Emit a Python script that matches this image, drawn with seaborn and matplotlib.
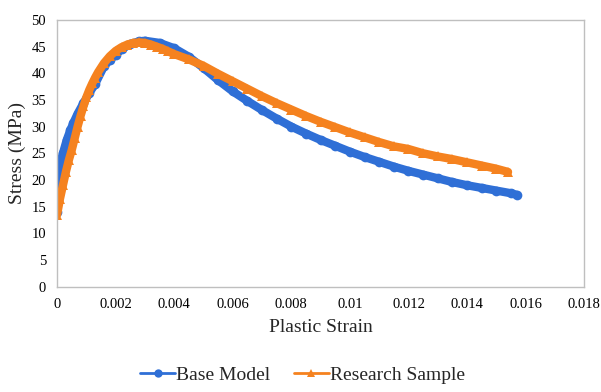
import numpy as np
import pandas as pd
import matplotlib
matplotlib.use('Agg')
import matplotlib.pyplot as plt
from matplotlib.lines import Line2D
import seaborn as sns

# values
base_strain = [0, 0.00005, 0.0001, 0.00015, 0.0002, 0.00033, 0.00045, 0.00055, 0.0007, 0.0009,
               0.0011, 0.0013, 0.0016, 0.0018, 0.002, 0.0022, 0.0025, 0.0028, 0.003,
               0.0035, 0.004, 0.0045, 0.005, 0.0055, 0.006, 0.0065, 0.007, 0.0075, 0.008,
               0.0085, 0.009, 0.0095, 0.01, 0.0105, 0.011, 0.0115, 0.012, 0.0125, 0.013,
               0.0135, 0.014, 0.0145, 0.015, 0.0155, 0.0157]
base_stress = [14.0, 18.0, 22.5, 24.0, 25.0, 27.5, 29.3, 30.6, 32.4, 34.4,
               36.3, 38.0, 41.3, 42.5, 43.5, 44.5, 45.5, 46.0, 46.1,
               45.7, 44.7, 43.1, 41.0, 38.7, 36.6, 34.8, 33.1, 31.5, 30.0,
               28.7, 27.5, 26.4, 25.3, 24.3, 23.4, 22.5, 21.7, 21.0, 20.3,
               19.6, 19.0, 18.5, 18.0, 17.5, 17.2]

sample_strain = [0, 0.0001, 0.0002, 0.0003, 0.0004, 0.0005, 0.0006, 0.0007, 0.0008, 0.0009,
                 0.001, 0.0011, 0.0012, 0.0013, 0.0014, 0.0016, 0.0018, 0.002, 0.0022,
                 0.0024, 0.0026, 0.0028, 0.003, 0.0032, 0.0034, 0.0036, 0.0038, 0.004,
                 0.0045, 0.005, 0.0055, 0.006, 0.0065, 0.007, 0.0075, 0.008, 0.0085,
                 0.009, 0.0095, 0.01, 0.0105, 0.011, 0.0115, 0.012, 0.0125, 0.013,
                 0.0135, 0.014, 0.0145, 0.015, 0.0154]
sample_stress = [13.5, 16.5, 19.0, 21.5, 23.7, 25.6, 27.8, 30.0, 32.0, 33.8,
                 35.5, 36.9, 38.1, 39.2, 40.2, 41.9, 43.2, 44.2, 44.9,
                 45.4, 45.7, 45.8, 45.7, 45.4, 45.0, 44.6, 44.1, 43.6,
                 42.6, 41.4, 39.9, 38.5, 37.1, 35.7, 34.4, 33.2, 32.0,
                 30.9, 29.9, 28.9, 28.0, 27.1, 26.3, 25.8, 25.0, 24.4,
                 23.9, 23.3, 22.7, 22.1, 21.5]

series_names = ['Base Model', 'Research Sample']
colors = {'Base Model': '#2F6FD6', 'Research Sample': '#F5821F'}
markers = {'Base Model': 'o', 'Research Sample': '^'}

x_ticks = [0, 0.002, 0.004, 0.006, 0.008, 0.01, 0.012, 0.014, 0.016, 0.018]
x_labels = ['0', '0.002', '0.004', '0.006', '0.008', '0.01', '0.012', '0.014', '0.016', '0.018']
y_ticks = list(range(0, 51, 5))

df = pd.concat([
    pd.DataFrame({'strain': base_strain, 'stress': base_stress, 'series': 'Base Model'}),
    pd.DataFrame({'strain': sample_strain, 'stress': sample_stress, 'series': 'Research Sample'}),
])

sns.set_theme(style='white')
plt.rcParams['font.family'] = ['Liberation Serif', 'DejaVu Serif']

fig = plt.figure(figsize=(6.01, 3.92), dpi=100)
ax = fig.add_axes([0.095, 0.269, 0.877, 0.680])

sns.lineplot(data=df, x='strain', y='stress', hue='series', style='series',
             palette=colors, markers=markers, dashes=False, sort=False,
             estimator=None, linewidth=6, markersize=7, markeredgewidth=0,
             legend=False, ax=ax)

ax.set_xlim(0, 0.018)
ax.set_ylim(0, 50)
ax.set_xticks(x_ticks)
ax.set_xticklabels(x_labels)
ax.set_yticks(y_ticks)
ax.tick_params(axis='both', labelsize=10.5, length=0, pad=8, colors='black')
ax.set_xlabel('Plastic Strain', fontsize=14, labelpad=6)
ax.set_ylabel('Stress (MPa)', fontsize=14, labelpad=4)
for s in ax.spines.values():
    s.set_color('#BFBFBF')
    s.set_linewidth(1)

handles = [Line2D([], [], color=colors[n], marker=markers[n], linewidth=2,
                  markersize=6, markeredgewidth=0) for n in series_names]
fig.legend(handles, series_names, loc='center', bbox_to_anchor=(0.503, 0.043),
           ncol=2, frameon=False, fontsize=14, handlelength=1.8,
           handletextpad=0.05, columnspacing=1.2)

fig.savefig('out.png', dpi=100)
